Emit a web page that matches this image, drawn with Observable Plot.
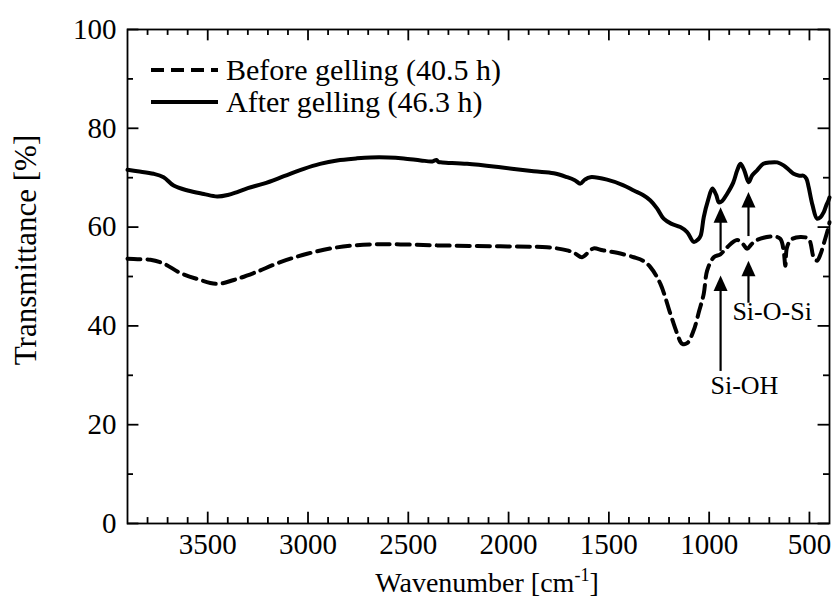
<!DOCTYPE html>
<html><head><meta charset="utf-8">
<script src="https://cdn.jsdelivr.net/npm/d3@7"></script>
<script src="https://cdn.jsdelivr.net/npm/@observablehq/plot@0.6"></script>
<style>
body{margin:0;background:#fff;}
#wrap{position:relative;width:835px;height:609px;font-family:"Liberation Serif","Times New Roman",serif;color:#000;}
#legend{position:absolute;left:151px;top:54px;font-size:30px;line-height:32px;}
#legend div{display:flex;align-items:center;white-space:nowrap;height:32px;}
#legend svg{margin-right:7px;}
#xtitle{position:absolute;left:287px;width:400px;top:567px;line-height:32px;text-align:center;font-size:28px;white-space:nowrap;}
#xtitle sup{font-size:18px;vertical-align:0;position:relative;top:-11px;}
#ytitle{position:absolute;left:26px;top:250px;width:0;height:0;}
#ytitle span{position:absolute;transform:translate(-50%,-50%) rotate(-90deg);white-space:nowrap;font-size:31px;line-height:34px;}
</style></head><body><div id="wrap"><div id="legend"></div><div id="xtitle">Wavenumber [cm<sup>-1</sup>]</div><div id="ytitle"><span>Transmittance [%]</span></div></div>
<script>
// After gelling (46.3 h) - solid
const afterX = [3900,3850,3770,3720,3670,3600,3520,3453,3400,3353,3300,3221,3120,3021,2940,2855,2760,2689,2600,2523,2438,2380,2360,2350,2330,2207,2041,1875,1775,1708,1670,1642,1620,1592,1509,1430,1376,1330,1293,1260,1227,1190,1144,1110,1077,1055,1042,1027,1005,984,965,951,935,911,880,860,844,825,803,785,761,730,695,660,629,600,579,550,529,515,504,485,462,445,429,415,405,400];
const afterY = [71.6,71.3,70.8,70.1,68.4,67.4,66.7,66.2,66.5,67.1,67.9,68.8,70.3,71.8,72.8,73.5,73.9,74.1,74.1,73.9,73.5,73.3,73.6,73.2,73.1,72.8,72.1,71.3,70.9,70.1,69.5,68.8,69.6,70.1,69.6,68.5,67.4,66.5,65.4,63.8,61.7,60.7,60.0,59.0,57.0,57.5,58.3,62.0,65.5,67.8,66.5,65.0,65.3,66.7,69.0,71.5,72.8,71.5,69.1,70.5,71.5,72.8,73.1,73.1,72.5,71.5,70.8,70.4,70.4,69.8,68.1,64.5,61.7,62.0,63.0,64.5,65.4,66.0];
// Before gelling (40.5 h) - dashed
const beforeX = [3900,3850,3786,3719,3636,3553,3453,3370,3271,3138,3004,2855,2689,2539,2356,2041,1808,1708,1670,1634,1600,1576,1530,1459,1376,1330,1293,1243,1193,1160,1135,1110,1077,1050,1027,1010,977,944,911,861,830,811,790,761,678,645,629,620,612,590,545,504,479,462,445,429,405,400];
const beforeY = [53.6,53.5,53.4,52.6,50.7,49.5,48.5,49.3,50.7,52.9,54.6,55.9,56.5,56.5,56.3,56.1,55.9,55.3,54.7,53.9,55.0,55.7,55.3,54.8,53.9,53.2,51.9,48.5,42.4,38.5,36.4,36.5,39.1,43.0,46.5,51.2,53.9,54.5,55.9,57.4,56.5,55.6,56.5,57.4,58.1,57.6,55.3,52.2,55.9,57.5,58.0,57.6,53.9,53.2,54.5,56.6,60.0,61.0];

const seriesNames = ["Before gelling (40.5 h)", "After gelling (46.3 h)"];
const xMajor = [3500,3000,2500,2000,1500,1000,500];
const xMinor = [3800,3700,3600,3400,3300,3200,3100,2900,2800,2700,2600,2400,2300,2200,2100,1900,1800,1700,1600,1400,1300,1200,1100,900,800,700,600];
const yMajor = [0,20,40,60,80,100];
const yMinor = [10,30,50,70,90];

// annotation arrows: x position, tip y, base y
const arrowX = [943, 804, 943, 804];
const arrowTip = [64.0, 67.1, 50.2, 53.2];
const arrowBase = [56.3, 59.3, 32.0, 45.8];
const labelText = ["Si-OH", "Si-O-Si"];
const labelX = [824, 686];
const labelY = [27.9, 42.9];

const after = afterX.map((x,i)=>({x, y: afterY[i]}));
const before = beforeX.map((x,i)=>({x, y: beforeY[i]}));
const arrows = arrowX.map((x,i)=>({x, tip: arrowTip[i], base: arrowBase[i]}));
const labels = labelText.map((t,i)=>({t, x: labelX[i], y: labelY[i]}));

const headUp = {draw(ctx){ ctx.moveTo(0,0); ctx.lineTo(7,15.5); ctx.lineTo(-7,15.5); ctx.closePath(); }};

const XMAX = 3900, XMIN = 400;
const tickStyle = {stroke: "#000", strokeWidth: 1.8};
const chart = Plot.plot({
  width: 835, height: 609,
  marginLeft: 127, marginRight: 6, marginTop: 29, marginBottom: 86,
  style: {fontFamily: '"Liberation Serif","Times New Roman",serif', fontSize: "29px", color: "#000", background: "#fff"},
  x: {domain: [XMAX, XMIN]},
  y: {domain: [0, 100]},
  marks: [
    Plot.axisX({ticks: xMajor, tickSize: 0, tickPadding: 10, label: null, fontSize: 29, tickFormat: d => String(d)}),
    Plot.axisY({ticks: yMajor, tickSize: 0, tickPadding: 11, label: null, fontSize: 29}),
    // inward ticks: bottom & top
    Plot.ruleX(xMajor, {x: d => d, y1: 0, y2: 2.3, ...tickStyle}),
    Plot.ruleX(xMajor, {x: d => d, y1: 100, y2: 97.7, ...tickStyle}),
    Plot.ruleX(xMinor, {x: d => d, y1: 0, y2: 1.2, ...tickStyle}),
    Plot.ruleX(xMinor, {x: d => d, y1: 100, y2: 98.8, ...tickStyle}),
    // inward ticks: left & right
    Plot.ruleY(yMajor, {y: d => d, x1: XMAX, x2: XMAX - 57, ...tickStyle}),
    Plot.ruleY(yMajor, {y: d => d, x1: XMIN, x2: XMIN + 57, ...tickStyle}),
    Plot.ruleY(yMinor, {y: d => d, x1: XMAX, x2: XMAX - 30, ...tickStyle}),
    Plot.ruleY(yMinor, {y: d => d, x1: XMIN, x2: XMIN + 30, ...tickStyle}),
    Plot.line(before, {x: "x", y: "y", stroke: "#000", strokeWidth: 4, strokeDasharray: "13,7", curve: "catmull-rom"}),
    Plot.line(after, {x: "x", y: "y", stroke: "#000", strokeWidth: 4, curve: "catmull-rom"}),
    Plot.ruleX(arrows, {x: "x", y1: "base", y2: "tip", dy: 6, stroke: "#000", strokeWidth: 2.2}),
    Plot.dot(arrows, {x: "x", y: "tip", symbol: headUp, r: 5, fill: "#000", stroke: "none"}),
    Plot.text(labels, {x: "x", y: "y", text: "t", fontSize: 26, fill: "#000"}),
    Plot.frame({stroke: "#000", strokeWidth: 1.8})
  ]
});
const wrap = document.getElementById("wrap");
wrap.insertBefore(chart, wrap.firstChild);
chart.style.position = "absolute"; chart.style.left = "0"; chart.style.top = "0";

const legend = document.getElementById("legend");
const dashes = ["13,7", null];
seriesNames.forEach((name, i) => {
  const row = document.createElement("div");
  row.innerHTML = `<svg width="68" height="12"><line x1="0" y1="6" x2="67" y2="6" stroke="#000" stroke-width="4" ${dashes[i] ? `stroke-dasharray="${dashes[i]}"` : ""}/></svg><span>${name}</span>`;
  legend.appendChild(row);
});
</script></body></html>
